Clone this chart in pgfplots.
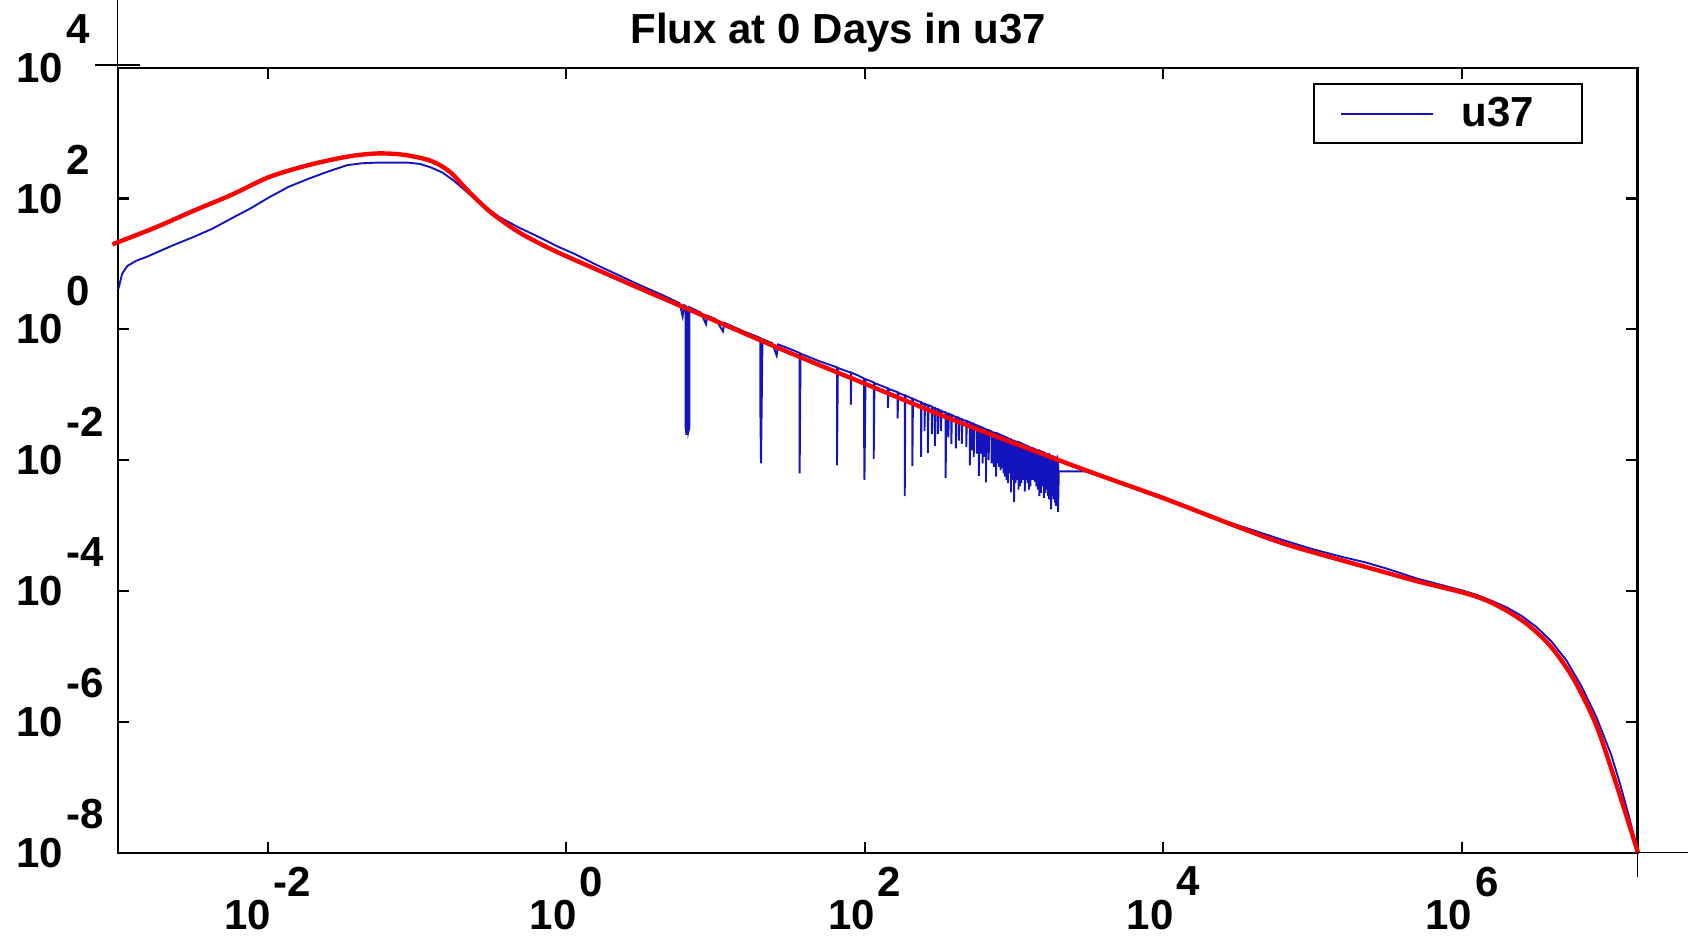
\documentclass[border=0pt]{standalone}
\usepackage{pgfplots}
\pgfplotsset{compat=1.18}
\usepackage{pgfplotstable}
\usepackage{fontspec}
\setmainfont{Liberation Sans}
\definecolor{ublue}{RGB}{20,20,190}
\newcommand\ylab[1]{10\rlap{\kern1.5pt\smash{\raisebox{19.3pt}{#1}}}}
\newcommand\xlab[1]{10\kern1.5pt\raisebox{16.6pt}{#1}}
\newcommand\bigf{\fontsize{21}{25}\selectfont\bfseries}

\pgfplotstableread{
lx ly
-3.000 0.62
-2.975 0.85
-2.94 0.97
-2.88 1.05
-2.81 1.11
-2.72 1.20
-2.63 1.29
-2.50 1.41
-2.37 1.54
-2.24 1.70
-2.115 1.85
-1.99 2.02
-1.86 2.18
-1.73 2.30
-1.60 2.41
-1.47 2.51
-1.37 2.54
-1.27 2.55
-1.16 2.55
-1.06 2.55
-0.98 2.53
-0.91 2.48
-0.83 2.40
-0.756 2.28
-0.68 2.13
-0.60 1.975
-0.52 1.84
-0.45 1.72
-0.32 1.56
-0.19 1.42
-0.06 1.27
0.06 1.15
0.20 0.99
0.35 0.83
0.50 0.67
0.65 0.52
0.76 0.40
0.78 0.20
0.79 0.37
0.80 0.36
0.80 -1.50
0.805 -1.60
0.81 -1.60
0.81 0.35
0.82 -1.55
0.825 -1.50
0.825 0.34
0.90 0.26
0.937 0.08
0.945 0.21
1.00 0.16
1.05 -0.03
1.06 0.10
1.20 -0.04
1.30 -0.13
1.30 -1.10
1.305 -2.05
1.31 -1.10
1.315 -0.15
1.38 -0.21
1.41 -0.40
1.42 -0.23
1.50 -0.30
1.564 -0.36
1.564 -2.20
1.57 -0.37
1.70 -0.49
1.814 -0.58
1.814 -2.08
1.82 -0.59
1.88 -0.64
1.907 -0.66
1.907 -1.15
1.91 -0.66
1.95 -0.70
1.995 -0.75
1.995 -1.45
1.998 -2.30
2.002 -1.45
2.005 -0.76
2.06 -0.81
2.06 -1.98
2.065 -0.82
2.12 -0.87
2.155 -0.90
2.155 -1.20
2.16 -0.91
2.22 -0.96
2.22 -1.36
2.225 -0.97
2.268 -1.01
2.268 -2.55
2.272 -1.01
2.319 -1.06
2.319 -2.09
2.323 -1.06
2.36 -1.10
2.377 -1.11
2.377 -1.95
2.381 -1.12
2.40 -1.14
2.40 -1.55
2.404 -1.14
2.423 -1.16
2.423 -1.89
2.427 -1.16
2.45 -1.18
2.45 -1.60
2.454 -1.19
2.47 -1.20
2.47 -1.78
2.474 -1.21
2.49 -1.22
2.49 -1.60
2.494 -1.23
2.51 -1.24
2.51 -1.55
2.515 -1.25
2.542 -1.27
2.542 -2.27
2.546 -1.28
2.56 -1.29
2.56 -1.65
2.564 -1.29
2.58 -1.31
2.58 -1.75
2.584 -1.31
2.61 -1.34
2.61 -1.82
2.614 -1.34
2.63 -1.35
2.63 -1.70
2.634 -1.36
2.65 -1.37
2.65 -1.75
2.654 -1.38
2.68 -1.40
2.68 -1.80
2.684 -1.40
2.704 -1.42
2.704 -2.08
2.708 -1.43
2.72 -1.44
2.72 -1.85
2.724 -1.44
2.73 -1.45
2.73 -1.95
2.734 -1.45
2.75 -1.47
2.75 -1.90
2.754 -1.47
2.765 -1.48
2.765 -2.24
2.769 -1.49
2.78 -1.50
2.78 -1.90
2.784 -1.50
2.79 -1.51
2.79 -2.05
2.794 -1.51
2.80 -1.52
2.80 -1.95
2.804 -1.52
2.812 -1.53
2.812 -2.34
2.816 -1.53
2.83 -1.54
2.83 -2.00
2.834 -1.55
2.85 -1.56
2.85 -2.05
2.854 -1.57
2.865 -1.58
2.865 -2.10
2.869 -1.58
2.88 -1.59
2.88 -2.25
2.884 -1.59
2.89 -1.60
2.89 -2.05
2.894 -1.60
2.90 -1.61
2.90 -2.10
2.904 -1.61
2.91 -1.62
2.91 -2.15
2.914 -1.62
2.92 -1.63
2.92 -2.12
2.924 -1.63
2.93 -1.64
2.93 -2.20
2.934 -1.64
2.94 -1.65
2.94 -2.25
2.944 -1.65
2.95 -1.66
2.95 -2.30
2.954 -1.66
2.96 -1.67
2.96 -2.35
2.964 -1.67
2.97 -1.68
2.97 -2.20
2.974 -1.68
2.98 -1.68
2.98 -2.49
2.984 -1.69
2.99 -1.70
2.99 -2.30
2.994 -1.70
3.000 -1.70
3.000 -2.64
3.004 -1.71
3.01 -1.71
3.01 -2.35
3.014 -1.72
3.02 -1.72
3.02 -2.30
3.024 -1.73
3.03 -1.73
3.03 -2.45
3.034 -1.73
3.04 -1.74
3.04 -2.40
3.044 -1.74
3.05 -1.75
3.05 -2.35
3.054 -1.75
3.06 -1.76
3.06 -2.30
3.064 -1.76
3.072 -1.77
3.072 -2.48
3.076 -1.78
3.08 -1.78
3.08 -2.30
3.084 -1.78
3.09 -1.79
3.09 -2.35
3.094 -1.79
3.10 -1.80
3.10 -2.45
3.104 -1.80
3.11 -1.81
3.11 -2.40
3.114 -1.81
3.125 -1.82
3.125 -2.30
3.129 -1.82
3.14 -1.83
3.14 -2.33
3.144 -1.84
3.15 -1.84
3.15 -2.40
3.154 -1.85
3.16 -1.85
3.16 -2.45
3.164 -1.86
3.17 -1.86
3.17 -2.55
3.174 -1.86
3.18 -1.87
3.18 -2.50
3.184 -1.87
3.19 -1.88
3.19 -2.40
3.194 -1.88
3.20 -1.89
3.20 -2.58
3.204 -1.89
3.21 -1.90
3.21 -2.50
3.214 -1.90
3.22 -1.91
3.22 -2.45
3.224 -1.91
3.228 -1.91
3.228 -2.55
3.232 -1.92
3.235 -1.92
3.235 -2.60
3.239 -1.92
3.242 -1.93
3.242 -2.50
3.245 -1.93
3.248 -1.93
3.248 -2.75
3.252 -1.94
3.258 -1.94
3.258 -2.55
3.262 -1.95
3.265 -1.95
3.265 -2.60
3.269 -1.95
3.275 -1.96
3.275 -2.65
3.278 -1.96
3.28 -1.96
3.28 -2.70
3.284 -1.97
3.29 -1.97
3.29 -2.60
3.293 -1.97
3.295 -1.98
3.295 -2.79
3.30 -2.17
3.50 -2.17
3.55 -2.20
3.70 -2.33
3.85 -2.45
4.00 -2.56
4.20 -2.74
4.40 -2.92
4.60 -3.07
4.80 -3.22
5.00 -3.36
5.20 -3.48
5.35 -3.56
5.50 -3.66
5.70 -3.81
5.85 -3.90
6.00 -3.99
6.10 -4.06
6.20 -4.15
6.30 -4.25
6.40 -4.38
6.50 -4.55
6.60 -4.77
6.70 -5.06
6.80 -5.45
6.90 -5.92
7.00 -6.50
7.06 -6.95
7.12 -7.45
7.18 -8.00
}\bluedata

\pgfplotstableread{
lx ly
-3.04 1.30
-2.75 1.56
-2.50 1.81
-2.24 2.06
-1.99 2.33
-1.73 2.51
-1.47 2.64
-1.27 2.69
-1.09 2.67
-0.91 2.58
-0.78 2.41
-0.65 2.10
-0.50 1.78
-0.32 1.49
-0.14 1.27
0.00 1.12
0.25 0.87
0.50 0.62
1.00 0.13
1.50 -0.36
2.00 -0.83
2.50 -1.30
3.00 -1.74
3.50 -2.17
4.00 -2.58
4.50 -3.02
4.80 -3.27
5.10 -3.47
5.40 -3.66
5.70 -3.85
6.00 -4.02
6.15 -4.13
6.30 -4.30
6.45 -4.53
6.60 -4.86
6.75 -5.35
6.90 -6.05
7.03 -6.92
7.18 -8.00
}\reddata

\begin{document}
\begin{tikzpicture}
\useasboundingbox (0,0) rectangle (844pt,471.5pt);
\begin{axis}[
  at={(59.2pt,45.2pt)}, anchor=south west,
  scale only axis, width=759.5pt, height=392.4pt,
  xmode=log, ymode=log,
  xmin=1e-3, xmax=1.5e7, ymin=1e-8, ymax=1e4,
  clip=false,
  axis line style={line width=1.1pt, black},
  tick style={line width=1.1pt, black},
  major tick length=5.5pt,
  xminorticks=false, yminorticks=false,
  tick align=inside,
  xtick={1e-2,1,1e2,1e4,1e6},
  xticklabels={\xlab{-2},\xlab{0},\xlab{2},\xlab{4},\xlab{6}},
  ytick={1e-8,1e-6,1e-4,1e-2,1,1e2,1e4},
  yticklabels={\ylab{-8},\ylab{-6},\ylab{-4},\ylab{-2},\ylab{0},\ylab{2},\ylab{4}},
  ticklabel style={font=\bigf, inner sep=0pt},
  xticklabel style={anchor=north, yshift=-7pt},
  yticklabel style={anchor=west, xshift=-51.2pt},
  title={Flux at 0 Days in u37},
  title style={at={(0.474,1)}, anchor=center, yshift=11.6pt, font=\bigf},
  legend style={at={(0.7864,0.9806)}, anchor=north west, draw=black,
    line width=1pt, fill=white, inner xsep=0pt, inner ysep=0pt,
    font=\bigf, nodes={inner sep=0pt}, column sep=0pt},
  legend cell align=left,
  legend image code/.code={
    \draw[#1, line width=1pt] (13.5pt,0pt) -- (59.5pt,0pt);
    \path[draw=none, fill=none] (0pt,-14.75pt) rectangle (74pt,14.75pt);
  },
]
\addplot[ublue, line width=0.95pt] table[x expr={pow(10,\thisrow{lx})}, y expr={pow(10,\thisrow{ly})}] {\bluedata};
\addlegendentry{u37\hspace*{24pt}}
\addplot[red, line width=2.2pt, smooth, forget plot] table[x expr={pow(10,\thisrow{lx})}, y expr={pow(10,\thisrow{ly})}] {\reddata};
\end{axis}
\draw[line width=0.6pt] (58.6pt,471.5pt) -- (58.6pt,437.6pt);
\draw[line width=0.6pt] (47.4pt,439pt) -- (70pt,439pt);
\draw[line width=0.6pt] (818.7pt,45.2pt) -- (844pt,45.2pt);
\draw[line width=0.6pt] (818.7pt,45.2pt) -- (818.7pt,33pt);
\end{tikzpicture}
\end{document}
